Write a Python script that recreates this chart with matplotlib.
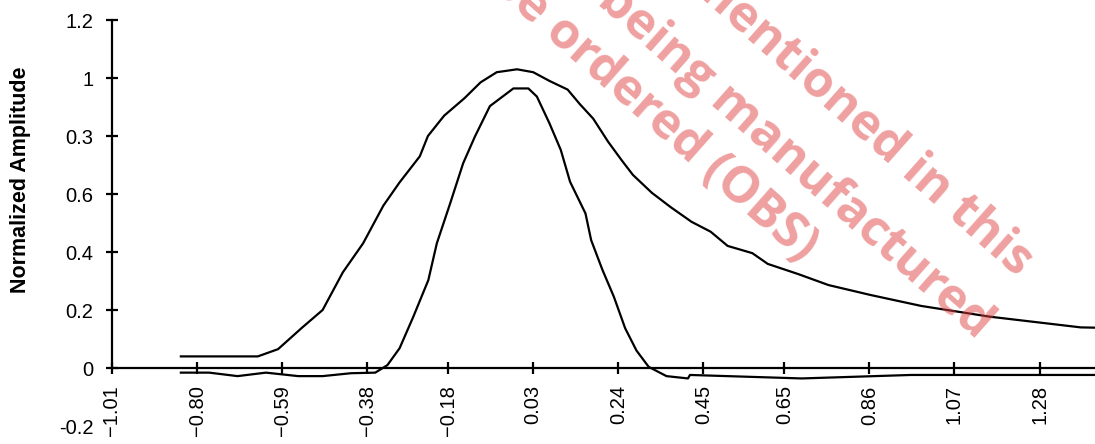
import matplotlib
matplotlib.use("Agg")
import matplotlib.pyplot as plt

plt.rcParams["font.family"] = ["Liberation Sans", "DejaVu Sans"]

# wide pulse
wide_x = [-0.84, -0.65, -0.60, -0.54, -0.49, -0.44, -0.39, -0.34, -0.30, -0.25,
          -0.23, -0.19, -0.14, -0.10, -0.06, -0.01, 0.03, 0.07, 0.115, 0.145,
          0.178, 0.215, 0.248, 0.276, 0.323, 0.370, 0.421, 0.468, 0.510, 0.571,
          0.609, 0.684, 0.759, 0.862, 0.988, 1.157, 1.297, 1.382, 1.42]
wide_y = [0.04, 0.04, 0.065, 0.14, 0.20, 0.33, 0.43, 0.56, 0.64, 0.73,
          0.80, 0.87, 0.93, 0.985, 1.02, 1.03, 1.02, 0.99, 0.96, 0.91,
          0.86, 0.78, 0.717, 0.666, 0.604, 0.554, 0.504, 0.470, 0.421, 0.396,
          0.359, 0.324, 0.286, 0.252, 0.214, 0.177, 0.154, 0.140, 0.139]

# narrow pulse
narrow_x = [-0.84, -0.77, -0.70, -0.63, -0.55, -0.49, -0.42, -0.36, -0.33, -0.30,
            -0.266, -0.229, -0.208, -0.175, -0.143, -0.114, -0.077, -0.019, 0.018, 0.039,
            0.070, 0.098, 0.121, 0.159, 0.173, 0.201, 0.229, 0.257, 0.285, 0.315,
            0.359, 0.412, 0.417, 0.693, 0.963, 1.42]
narrow_y = [-0.016, -0.016, -0.028, -0.016, -0.028, -0.028, -0.018, -0.016, 0.01, 0.068,
            0.177, 0.303, 0.43, 0.568, 0.706, 0.798, 0.903, 0.964, 0.964, 0.936,
            0.844, 0.752, 0.642, 0.533, 0.441, 0.338, 0.246, 0.137, 0.06, 0.004,
            -0.028, -0.036, -0.024, -0.036, -0.024, -0.024]

x_ticks = [-1.01, -0.80, -0.59, -0.38, -0.18, 0.03, 0.24, 0.45, 0.65, 0.86, 1.07, 1.28]
y_ticks = [-0.2, 0, 0.2, 0.4, 0.6, 0.8, 1.0, 1.2]
y_tick_labels = ["-0.2", "0", "0.2", "0.4", "0.6", "0.3", "1", "1.2"]

watermark_lines = [
    "The products mentioned in this",
    "document are no longer being manufactured",
    "and can no longer be ordered (OBS)",
]

fig = plt.figure(figsize=(10.95, 4.44), dpi=100)
ax = fig.add_axes([112 / 1095, 18 / 444, 983 / 1095, 406 / 444])

ax.plot(wide_x, wide_y, color="black", lw=1.6, clip_on=False)
ax.plot(narrow_x, narrow_y, color="black", lw=1.6, clip_on=False)

ax.set_xlim(-1.01, 1.417)
ax.set_ylim(-0.2, 1.2)

for side in ["top", "right"]:
    ax.spines[side].set_visible(False)
ax.spines["left"].set_bounds(0, 1.2)
ax.spines["bottom"].set_position(("data", 0))
for side in ["left", "bottom"]:
    ax.spines[side].set_linewidth(1.6)

ax.set_xticks(x_ticks)
ax.set_xticklabels([f"{v:.2f}".replace("-", "\u2212") for v in x_ticks], rotation=90)
ax.set_yticks(y_ticks)
ax.set_yticklabels(y_tick_labels)
ax.tick_params(axis="both", direction="inout", length=9, width=1.6, labelsize=14.5)
ax.tick_params(axis="y", pad=9)
ax.tick_params(axis="x", pad=8)
ax.yaxis.get_major_ticks()[0].tick1line.set_visible(False)

ax.set_ylabel("Normalized Amplitude", fontsize=15.5, fontweight="bold")
ax.yaxis.set_label_coords(-0.082, 0.606)

# watermark
ends = [(1017, 278), (977, 340), (802, 263)]
for line, (px, py) in zip(watermark_lines, ends):
    fig.text(px / 1095, 1 - py / 444, line, fontsize=36, fontweight="bold",
             family="Open Sans", color="#e04141", alpha=0.5, rotation=-41.5,
             rotation_mode="anchor", ha="right", va="baseline")

fig.savefig("out.png", dpi=100)
